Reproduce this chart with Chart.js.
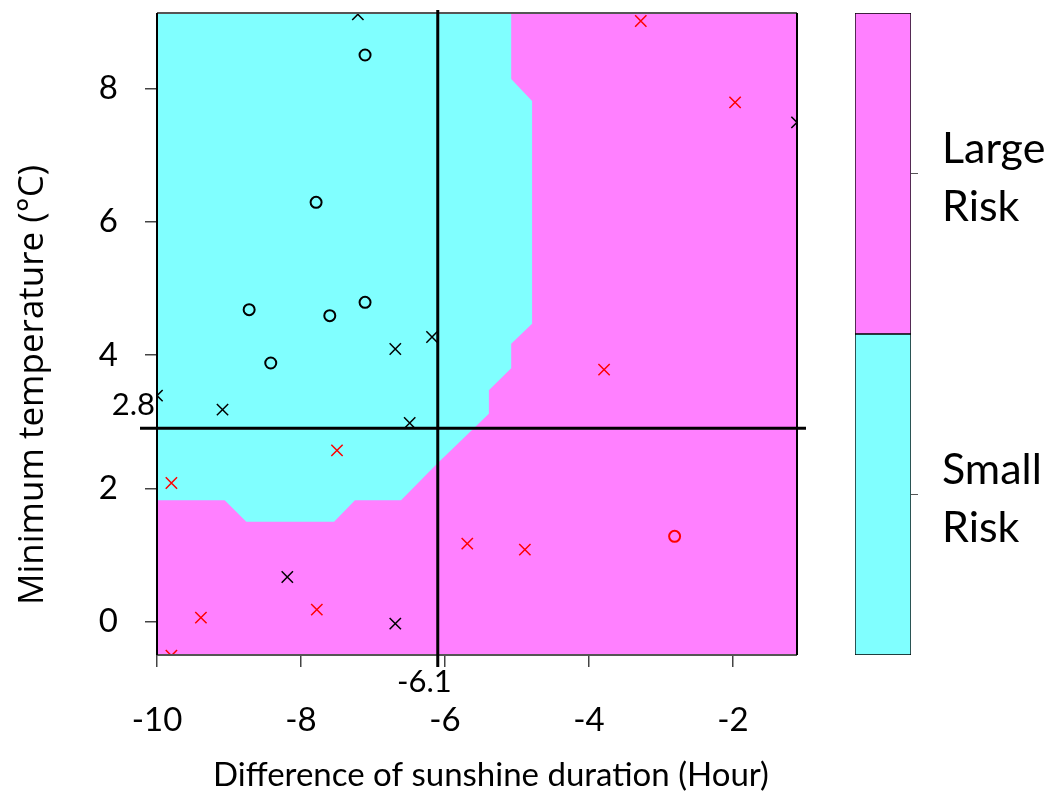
<!DOCTYPE html>
<html lang="en">
<head>
<meta charset="UTF-8">
<title>Risk map</title>
<script src="https://cdn.jsdelivr.net/npm/chart.js@4.4.1/dist/chart.umd.min.js"></script>
<style>
  html, body { margin: 0; padding: 0; background: #fff; }
  #wrap { position: relative; width: 1054px; height: 796px; }
  #mainCanvas { position: absolute; left: 0; top: 0; }
  #barCanvas { position: absolute; left: 840px; top: 0; }
</style>
</head>
<body>
<div id="wrap">
  <canvas id="mainCanvas" width="1054" height="796"></canvas>
  <canvas id="barCanvas" width="214" height="796"></canvas>
</div>
<script>
// axes
const xTicks = [-10, -8, -6, -4, -2]
const yTicks = [0, 2, 4, 6, 8]
const xRange = [-10, -1.11]
const yRange = [-0.5, 9.13]
const xTitle = "Difference of sunshine duration (Hour)"
const yTitle = "Minimum temperature (°C)"

// cut-off lines
const cutX = -6.1
const cutY = 2.9
const cutXLabel = "-6.1"
const cutYLabel = "2.8"

// outline of the small risk zone (rest of the plot is large risk)
const smallZoneX = [-10, -5.08, -5.08, -4.79, -4.79, -5.08, -5.08, -5.39, -5.39, -6.11, -6.61, -7.25, -7.54, -8.76, -9.06, -10, -10]
const smallZoneY = [9.13, 9.13, 8.14, 7.81, 4.47, 4.17, 3.80, 3.47, 3.12, 2.37, 1.82, 1.82, 1.50, 1.50, 1.82, 1.82, 9.13]

// observations
const blackCrossX = [-7.21, -1.11, -10.0, -9.09, -6.69, -6.18, -6.49, -8.19, -6.69]
const blackCrossY = [9.11, 7.49, 3.39, 3.18, 4.09, 4.27, 2.98, 0.67, -0.03]
const blackCircleX = [-7.11, -7.79, -8.72, -7.60, -7.11, -8.42]
const blackCircleY = [8.50, 6.29, 4.68, 4.59, 4.79, 3.88]
const redCrossX = [-3.28, -1.97, -3.79, -7.50, -9.80, -5.69, -4.89, -9.39, -7.78, -9.80]
const redCrossY = [9.01, 7.79, 3.78, 2.57, 2.08, 1.17, 1.08, 0.06, 0.18, -0.51]
const redCircleX = [-2.81]
const redCircleY = [1.28]

// colour bar
const riskLabels = [["Small", "Risk"], ["Large", "Risk"]]
const riskTickPos = [0.5, 1.5]

const cyan = "#80FFFF"
const magenta = "#FF80FF"

function toPoints(xs, ys){
  return xs.map((x, i) => ({x: x, y: ys[i]}))
}

function markerSet(name, xs, ys, style, color){
  return {
    label: name,
    data: toPoints(xs, ys),
    pointStyle: style,
    pointRadius: style == "circle" ? 5.5 : 8,
    pointBorderWidth: style == "circle" ? 2 : 1.5,
    pointBorderColor: color,
    pointBackgroundColor: "rgba(0,0,0,0)",
    showLine: false,
    clip: 0,
    order: 0
  }
}

// chart.js reserves room for half a tick label at each end, not wanted here
function noEdgePadding(s){
  s.paddingTop = 0
  s.paddingBottom = 0
  s.paddingLeft = 0
  s.paddingRight = 0
}

const plotBackground = {
  id: "plotBackground",
  beforeDatasetsDraw(chart){
    const {ctx, chartArea} = chart
    ctx.save()
    ctx.fillStyle = magenta
    ctx.fillRect(chartArea.left, chartArea.top, chartArea.width, chartArea.height)
    ctx.restore()
  }
}

const cutLines = {
  id: "cutLines",
  afterDatasetsDraw(chart){
    const {ctx, chartArea, scales} = chart
    const px = scales.x.getPixelForValue(cutX)
    const py = scales.y.getPixelForValue(cutY)
    ctx.save()
    // box
    ctx.lineWidth = 2
    ctx.strokeStyle = "#555"
    ctx.beginPath()
    ctx.moveTo(chartArea.left, chartArea.top)
    ctx.lineTo(chartArea.right, chartArea.top)
    ctx.moveTo(chartArea.left, chartArea.bottom)
    ctx.lineTo(chartArea.right, chartArea.bottom)
    ctx.stroke()
    ctx.strokeStyle = "#000"
    ctx.beginPath()
    ctx.moveTo(chartArea.left, chartArea.top)
    ctx.lineTo(chartArea.left, chartArea.bottom)
    ctx.moveTo(chartArea.right, chartArea.top)
    ctx.lineTo(chartArea.right, chartArea.bottom)
    ctx.stroke()
    // cut-off lines
    ctx.lineWidth = 3
    ctx.beginPath()
    ctx.moveTo(px, chartArea.top - 3)
    ctx.lineTo(px, chartArea.bottom + 12)
    ctx.moveTo(chartArea.left - 17, py)
    ctx.lineTo(chartArea.right + 9, py)
    ctx.stroke()
    ctx.fillStyle = "#000"
    ctx.font = "31px Lato"
    ctx.textBaseline = "middle"
    ctx.textAlign = "right"
    ctx.fillText(cutXLabel, px + 14, chartArea.bottom + 27)
    ctx.fillText(cutYLabel, chartArea.left - 2, py - 23)
    ctx.restore()
  }
}

// axis titles sit a bit off-centre in the original, so they are drawn here
const axisTitles = {
  id: "axisTitles",
  afterDraw(chart){
    const {ctx, chartArea} = chart
    ctx.save()
    ctx.fillStyle = "#000"
    ctx.textAlign = "center"
    ctx.textBaseline = "middle"
    ctx.font = "33px Lato"
    ctx.fillText(xTitle, (chartArea.left + chartArea.right) / 2 + 14, 775)
    ctx.translate(33, (chartArea.top + chartArea.bottom) / 2 + 51)
    ctx.rotate(-Math.PI / 2)
    ctx.font = "35px 'Open Sans'"
    ctx.fillText(yTitle, 0, 0)
    ctx.restore()
  }
}

new Chart(document.getElementById("mainCanvas"), {
  type: "scatter",
  data: {
    datasets: [
      markerSet("black x", blackCrossX, blackCrossY, "crossRot", "#000"),
      markerSet("black o", blackCircleX, blackCircleY, "circle", "#000"),
      markerSet("red x", redCrossX, redCrossY, "crossRot", "#FF0000"),
      markerSet("red o", redCircleX, redCircleY, "circle", "#FF0000"),
      {
        label: "small risk zone",
        data: toPoints(smallZoneX, smallZoneY),
        showLine: true,
        fill: "shape",
        backgroundColor: cyan,
        borderColor: cyan,
        borderWidth: 0,
        pointRadius: 0,
        tension: 0,
        clip: 0,
        order: 5
      }
    ]
  },
  options: {
    responsive: false,
    animation: false,
    layout: { padding: { top: 13, right: 257, left: 0, bottom: 0 } },
    plugins: { legend: { display: false }, tooltip: { enabled: false } },
    scales: {
      x: {
        type: "linear",
        min: xRange[0],
        max: xRange[1],
        afterBuildTicks: s => { s.ticks = xTicks.map(v => ({value: v})) },
        afterFit: s => { s.height = 141; noEdgePadding(s) },
        border: { display: false },
        grid: { drawOnChartArea: false, tickLength: 12, color: "#444", lineWidth: 1.5 },
        ticks: { font: { family: "Lato", size: 33 }, color: "#000", padding: 34, maxRotation: 0 }
      },
      y: {
        type: "linear",
        min: yRange[0],
        max: yRange[1],
        afterBuildTicks: s => { s.ticks = yTicks.map(v => ({value: v})) },
        afterFit: s => { s.width = 157; noEdgePadding(s) },
        border: { display: false },
        grid: { drawOnChartArea: false, tickLength: 12, color: "#444", lineWidth: 1.5 },
        ticks: { font: { family: "Lato", size: 33 }, color: "#000", padding: 27 }
      }
    }
  },
  plugins: [plotBackground, cutLines, axisTitles]
})

new Chart(document.getElementById("barCanvas"), {
  type: "bar",
  data: {
    labels: ["risk"],
    datasets: [
      { label: "Small Risk", data: [1], backgroundColor: cyan, borderColor: "#000", borderWidth: 1, borderSkipped: false, barPercentage: 1, categoryPercentage: 1 },
      { label: "Large Risk", data: [1], backgroundColor: magenta, borderColor: "#000", borderWidth: 1, borderSkipped: false, barPercentage: 1, categoryPercentage: 1 }
    ]
  },
  options: {
    responsive: false,
    animation: false,
    layout: { padding: { top: 13, bottom: 141, left: 15, right: 0 } },
    plugins: { legend: { display: false }, tooltip: { enabled: false } },
    scales: {
      x: { display: false, stacked: true },
      y: {
        stacked: true,
        position: "right",
        min: 0,
        max: 2,
        afterBuildTicks: s => { s.ticks = riskTickPos.map(v => ({value: v})) },
        afterFit: s => { s.width = 143; noEdgePadding(s) },
        border: { display: false },
        grid: { drawOnChartArea: false, tickLength: 7, color: "#555" },
        ticks: {
          callback: (v, i) => riskLabels[i],
          font: { family: "Lato", size: 43, lineHeight: 1.35 },
          color: "#000",
          padding: 24,
          labelOffset: 5
        }
      }
    }
  }
})
</script>
</body>
</html>
